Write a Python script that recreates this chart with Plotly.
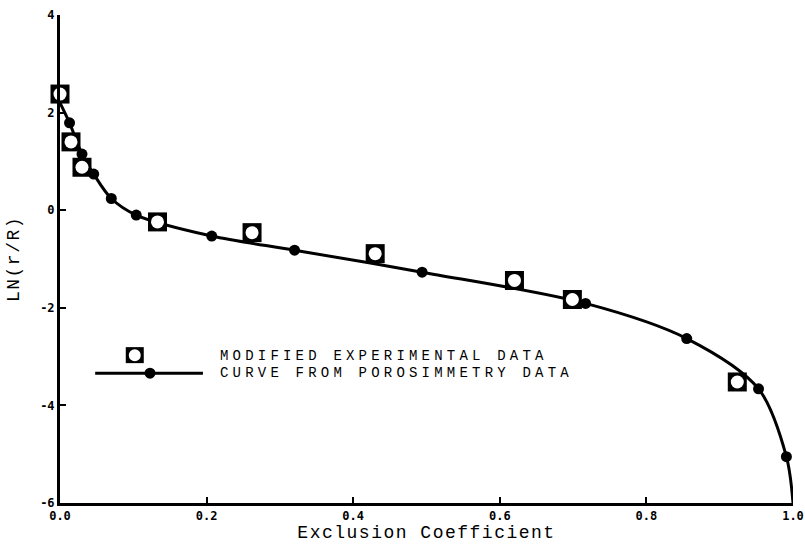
import plotly.graph_objects as go

# ---- data ----
# Modified experimental data (open squares)
exp_x = [0.0, 0.015, 0.030, 0.133, 0.262, 0.430, 0.620, 0.699, 0.924]
exp_y = [2.38, 1.40, 0.88, -0.24, -0.46, -0.89, -1.44, -1.83, -3.52]

# Curve from porosimetry data (filled dots)
por_x = [0.013, 0.030, 0.046, 0.070, 0.104, 0.207, 0.320, 0.494, 0.717, 0.855, 0.953, 0.991]
por_y = [1.79, 1.15, 0.74, 0.24, -0.10, -0.53, -0.82, -1.27, -1.91, -2.63, -3.66, -5.05]

# end points of the drawn curve (where it meets the axes)
curve_start = (0.0, 2.2)
curve_end = (1.0, -6.0)
curve_x = [curve_start[0]] + por_x + [curve_end[0]]
curve_y = [curve_start[1]] + por_y + [curve_end[1]]

x_ticks = [0.0, 0.2, 0.4, 0.6, 0.8, 1.0]
x_ticklabels = ["0.0", "0.2", "0.4", "0.6", "0.8", "1.0"]
y_ticks = [-6, -4, -2, 0, 2, 4]
y_ticklabels = ["-6", "-4", "-2", "0", "2", "4"]

legend_labels = ["MODIFIED EXPERIMENTAL DATA", "CURVE FROM POROSIMMETRY DATA"]

fig = go.Figure()

fig.add_trace(go.Scatter(
    x=curve_x, y=curve_y, mode="lines",
    line=dict(color="black", width=3, shape="spline", smoothing=0.9),
    showlegend=False, hoverinfo="skip", cliponaxis=False,
))
fig.add_trace(go.Scatter(
    x=por_x, y=por_y, mode="markers",
    marker=dict(symbol="circle", size=11, color="black"),
    name=legend_labels[1], showlegend=False, cliponaxis=False,
))
fig.add_trace(go.Scatter(
    x=exp_x, y=exp_y, mode="markers",
    marker=dict(symbol="square", size=19, color="black"),
    name=legend_labels[0], showlegend=False, cliponaxis=False,
))
fig.add_trace(go.Scatter(
    x=exp_x, y=exp_y, mode="markers",
    marker=dict(symbol="circle", size=13, color="white", line=dict(width=0)),
    showlegend=False, hoverinfo="skip", cliponaxis=False,
))

tick_font = dict(family="DejaVu Sans Mono", size=12, color="black", weight="bold")
title_font = dict(family="Liberation Mono", size=18, color="black")

fig.update_xaxes(
    range=[0, 1], tickvals=x_ticks, ticktext=x_ticklabels, automargin=False,
    showline=True, linecolor="black", linewidth=3, mirror=False,
    ticks="inside", ticklen=6, tickwidth=2, tickcolor="black",
    showgrid=False, zeroline=False, tickfont=tick_font,
    title=dict(text="Exclusion Coefficient", font=title_font, standoff=2),
)
fig.update_yaxes(
    range=[-6, 4], tickvals=y_ticks, ticktext=y_ticklabels, automargin=False,
    showline=True, linecolor="black", linewidth=3, mirror=False,
    ticks="inside", ticklen=6, tickwidth=2, tickcolor="black",
    showgrid=False, zeroline=False, tickfont=tick_font,
    title=dict(text="LN(r/R)", font=title_font, standoff=16),
)

# ---- hand-drawn legend (paper coordinates) ----
leg_sq = (0.102, 0.303)
leg_line_y = 0.266
shapes = [
    dict(type="rect", xref="paper", yref="paper", xsizemode="pixel", ysizemode="pixel",
         xanchor=leg_sq[0], yanchor=leg_sq[1], x0=-9, x1=9, y0=-8, y1=8,
         fillcolor="black", line=dict(width=0)),
    dict(type="circle", xref="paper", yref="paper", xsizemode="pixel", ysizemode="pixel",
         xanchor=leg_sq[0], yanchor=leg_sq[1], x0=-6, x1=6, y0=-6, y1=6,
         fillcolor="white", line=dict(width=0)),
    dict(type="line", xref="paper", yref="paper", x0=0.048, x1=0.195,
         y0=leg_line_y, y1=leg_line_y, line=dict(color="black", width=3)),
    dict(type="circle", xref="paper", yref="paper", xsizemode="pixel", ysizemode="pixel",
         xanchor=0.1228, yanchor=leg_line_y, x0=-5.5, x1=5.5, y0=-5.5, y1=5.5,
         fillcolor="black", line=dict(width=0)),
]
leg_font = dict(family="Liberation Mono", size=14, color="black")
annotations = [
    dict(text=legend_labels[0], xref="paper", yref="paper", x=0.2156, y=0.302,
         xanchor="left", yanchor="middle", showarrow=False, font=leg_font),
    dict(text=legend_labels[1], xref="paper", yref="paper", x=0.2156, y=leg_line_y,
         xanchor="left", yanchor="middle", showarrow=False, font=leg_font),
]

fig.update_layout(
    width=805, height=557, autosize=False,
    margin=dict(l=60, r=12, t=15, b=54),
    plot_bgcolor="white", paper_bgcolor="white",
    shapes=shapes, annotations=annotations,
)

post_js = """
document.body.style.margin = '0';
document.body.style.padding = '0';
document.body.style.overflow = 'hidden';
var gd = document.getElementById('{plot_id}');
gd.querySelectorAll('.annotation-text').forEach(function(t){
  var b = t.getBBox();
  t.setAttribute('text-anchor', 'start');
  t.setAttribute('x', b.x);
  t.style.letterSpacing = '4.2px';
});
gd.querySelectorAll('.xtitle, .ytitle').forEach(function(t){ t.style.letterSpacing = '1.5px'; });
"""

fig.write_html("out.html", post_script=post_js, config={"displayModeBar": False})
